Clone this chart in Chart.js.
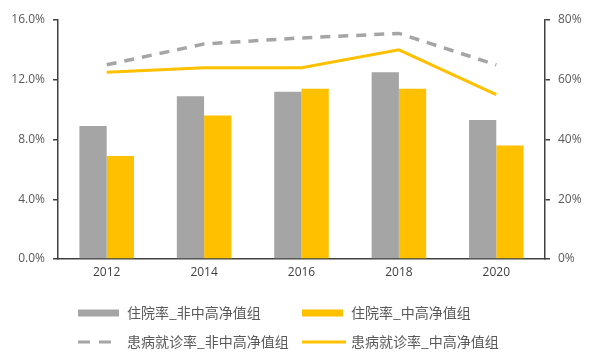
<!DOCTYPE html>
<html><head><meta charset="utf-8">
<script src="https://cdn.jsdelivr.net/npm/chart.js@4"></script>
<style>html,body{margin:0;padding:0;background:#fff}#wrap{width:600px;height:352px;position:relative}</style>
</head><body><div id="wrap"><canvas id="c" width="600" height="352"></canvas></div>
<script>
const years = ['2012','2014','2016','2018','2020'];
const hospNonHigh = [8.9, 10.9, 11.2, 12.5, 9.3];
const hospHigh = [6.9, 9.6, 11.4, 11.4, 7.6];
const visitNonHigh = [65, 72, 74, 75.5, 65];
const visitHigh = [62.5, 64, 64, 70, 55];
const leftTicks = [0, 4, 8, 12, 16];
const rightTicks = [0, 20, 40, 60, 80];
const seriesNames = ['住院率_非中高净值组','住院率_中高净值组','患病就诊率_非中高净值组','患病就诊率_中高净值组'];

const GRAY = '#A5A5A5', GOLD = '#FFC000';
const tickFont = {family: "'Open Sans', 'Liberation Sans', sans-serif", size: 12};

const legendPlugin = {
  id: 'gridLegend',
  afterDraw(chart) {
    const ctx = chart.ctx;
    ctx.save();
    ctx.font = "14px 'Noto Sans CJK SC', sans-serif";
    ctx.fillStyle = '#595959';
    ctx.textBaseline = 'middle';
    const cols = [78, 302];
    const rows = [313, 342];
    const items = [
      {type:'box', color:GRAY}, {type:'box', color:GOLD},
      {type:'dash', color:GRAY}, {type:'line', color:GOLD}
    ];
    items.forEach((it, i) => {
      const x = cols[i % 2], y = rows[Math.floor(i / 2)];
      if (it.type === 'box') {
        ctx.fillStyle = it.color;
        ctx.fillRect(x, y - 3.5, 41, 7);
      } else {
        ctx.strokeStyle = it.color;
        ctx.lineWidth = 3;
        ctx.setLineDash(it.type === 'dash' ? [12, 9] : []);
        ctx.beginPath(); ctx.moveTo(x, y); ctx.lineTo(x + (it.type==='dash'?41:44), y); ctx.stroke();
        ctx.setLineDash([]);
      }
      ctx.fillStyle = '#595959';
      ctx.fillText(seriesNames[i], x + 49, y);
    });
    ctx.restore();
  }
};

new Chart(document.getElementById('c'), {
  type: 'bar',
  data: {
    labels: years,
    datasets: [
      {label: seriesNames[0], data: hospNonHigh, backgroundColor: GRAY, yAxisID: 'y', order: 2, categoryPercentage: 0.56, barPercentage: 1},
      {label: seriesNames[1], data: hospHigh, backgroundColor: GOLD, yAxisID: 'y', order: 2, categoryPercentage: 0.56, barPercentage: 1},
      {type: 'line', label: seriesNames[2], data: visitNonHigh, borderColor: GRAY, borderWidth: 3.5, borderDash: [10, 8], pointRadius: 0, tension: 0, fill: false, yAxisID: 'y2', order: 1},
      {type: 'line', label: seriesNames[3], data: visitHigh, borderColor: GOLD, borderWidth: 3, pointRadius: 0, tension: 0, fill: false, yAxisID: 'y2', order: 0}
    ]
  },
  options: {
    responsive: false,
    animation: false,
    layout: {padding: {top: 20, bottom: 71, left: 0, right: 0}},
    plugins: {legend: {display: false}, tooltip: {enabled: false}},
    scales: {
      x: {
        offset: true,
        grid: {display: false, drawTicks: false},
        border: {color: '#404040', width: 1.5},
        ticks: {color: '#404040', font: tickFont, padding: 6},
        afterFit(s) { s.height = 22; }
      },
      y: {
        position: 'left', min: 0, max: 16,
        afterBuildTicks(s) { s.ticks = leftTicks.map(v => ({value: v})); },
        grid: {display: true, drawOnChartArea: false, drawTicks: true, tickLength: 5, color: '#404040', lineWidth: 1.5},
        border: {color: '#404040', width: 1.5},
        ticks: {color: '#595959', font: tickFont, padding: 8, callback: v => v.toFixed(1) + '%'},
        afterFit(s) { s.width = 58; }
      },
      y2: {
        position: 'right', min: 0, max: 80,
        afterBuildTicks(s) { s.ticks = rightTicks.map(v => ({value: v})); },
        grid: {display: true, drawOnChartArea: false, drawTicks: true, tickLength: 5, color: '#404040', lineWidth: 1.5},
        border: {color: '#404040', width: 1.5},
        ticks: {color: '#595959', font: tickFont, padding: 8, callback: v => v + '%'},
        afterFit(s) { s.width = 55; }
      }
    }
  },
  plugins: [legendPlugin]
});
</script></body></html>
